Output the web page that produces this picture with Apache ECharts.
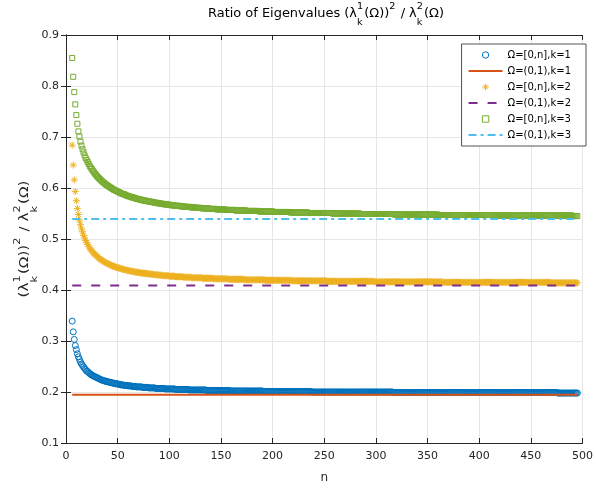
<!DOCTYPE html>
<html>
<head>
<meta charset="utf-8">
<script src="https://cdn.jsdelivr.net/npm/echarts@6/dist/echarts.min.js"></script>
<style>html,body{margin:0;padding:0;background:#fff}#chart{width:596px;height:489px}</style>
</head>
<body>
<div id="chart"></div>
<script>
// n values (x)
const xs = [
  6,7,8,9,10,11,12,13,14,15, 16,17,18,19,20,21,22,23,24,25,
  26,27,28,29,30,31,32,33,34,35, 36,37,38,39,40,41,42,43,44,45,
  46,47,48,49,50,51,52,53,54,55, 56,57,58,59,60,61,62,63,64,65,
  66,67,68,69,70,71,72,73,74,75, 76,77,78,79,80,81,82,83,84,85,
  86,87,88,89,90,91,92,93,94,95, 96,97,98,99,100,101,102,103,104,105,
  106,107,108,109,110,111,112,113,114,115, 116,117,118,119,120,121,122,123,124,125,
  126,127,128,129,130,131,132,133,134,135, 136,137,138,139,140,141,142,143,144,145,
  146,147,148,149,150,151,152,153,154,155, 156,157,158,159,160,161,162,163,164,165,
  166,167,168,169,170,171,172,173,174,175, 176,177,178,179,180,181,182,183,184,185,
  186,187,188,189,190,191,192,193,194,195, 196,197,198,199,200,201,202,203,204,205,
  206,207,208,209,210,211,212,213,214,215, 216,217,218,219,220,221,222,223,224,225,
  226,227,228,229,230,231,232,233,234,235, 236,237,238,239,240,241,242,243,244,245,
  246,247,248,249,250,251,252,253,254,255, 256,257,258,259,260,261,262,263,264,265,
  266,267,268,269,270,271,272,273,274,275, 276,277,278,279,280,281,282,283,284,285,
  286,287,288,289,290,291,292,293,294,295, 296,297,298,299,300,301,302,303,304,305,
  306,307,308,309,310,311,312,313,314,315, 316,317,318,319,320,321,322,323,324,325,
  326,327,328,329,330,331,332,333,334,335, 336,337,338,339,340,341,342,343,344,345,
  346,347,348,349,350,351,352,353,354,355, 356,357,358,359,360,361,362,363,364,365,
  366,367,368,369,370,371,372,373,374,375, 376,377,378,379,380,381,382,383,384,385,
  386,387,388,389,390,391,392,393,394,395, 396,397,398,399,400,401,402,403,404,405,
  406,407,408,409,410,411,412,413,414,415, 416,417,418,419,420,421,422,423,424,425,
  426,427,428,429,430,431,432,433,434,435, 436,437,438,439,440,441,442,443,444,445,
  446,447,448,449,450,451,452,453,454,455, 456,457,458,459,460,461,462,463,464,465,
  466,467,468,469,470,471,472,473,474,475, 476,477,478,479,480,481,482,483,484,485,
  486,487,488,489,490,491,492,493,494,495
];
// Ω=[0,n], k=1   (one row = 10 consecutive n)
const ratioK1 = [
  .339,.318,.303,.291,.283,.275,.269,.264,.259,.255,
  .252,.249,.246,.244,.241,.240,.238,.236,.235,.233,
  .232,.231,.230,.229,.228,.227,.226,.225,.224,.223,
  .223,.222,.221,.221,.220,.220,.219,.219,.218,.218,
  .217,.217,.216,.216,.216,.215,.215,.214,.214,.214,
  .213,.213,.213,.213,.212,.212,.212,.212,.211,.211,
  .211,.211,.210,.210,.210,.210,.210,.210,.209,.209,
  .209,.209,.209,.209,.208,.208,.208,.208,.208,.208,
  .208,.207,.207,.207,.207,.207,.207,.207,.207,.207,
  .206,.206,.206,.206,.206,.206,.206,.206,.206,.206,
  .205,.205,.205,.205,.205,.205,.205,.205,.205,.205,
  .205,.205,.205,.204,.204,.204,.204,.204,.204,.204,
  .204,.204,.204,.204,.204,.204,.204,.204,.204,.204,
  .203,.203,.203,.203,.203,.203,.203,.203,.203,.203,
  .203,.203,.203,.203,.203,.203,.203,.203,.203,.203,
  .203,.203,.203,.202,.202,.202,.202,.202,.202,.202,
  .202,.202,.202,.202,.202,.202,.202,.202,.202,.202,
  .202,.202,.202,.202,.202,.202,.202,.202,.202,.202,
  .202,.202,.202,.202,.202,.201,.201,.201,.201,.201,
  .201,.201,.201,.201,.201,.201,.201,.201,.201,.201,
  .201,.201,.201,.201,.201,.201,.201,.201,.201,.201,
  .201,.201,.201,.201,.201,.201,.201,.201,.201,.201,
  .201,.201,.201,.201,.201,.201,.201,.201,.201,.201,
  .201,.201,.200,.200,.200,.200,.200,.200,.200,.200,
  .200,.200,.200,.200,.200,.200,.200,.200,.200,.200,
  .200,.200,.200,.200,.200,.200,.200,.200,.200,.200,
  .200,.200,.200,.200,.200,.200,.200,.200,.200,.200,
  .200,.200,.200,.200,.200,.200,.200,.200,.200,.200,
  .200,.200,.200,.200,.200,.200,.200,.200,.200,.200,
  .200,.200,.200,.200,.200,.200,.200,.200,.200,.200,
  .200,.200,.200,.200,.200,.200,.200,.200,.200,.200,
  .200,.199,.199,.199,.199,.199,.199,.199,.199,.199,
  .199,.199,.199,.199,.199,.199,.199,.199,.199,.199,
  .199,.199,.199,.199,.199,.199,.199,.199,.199,.199,
  .199,.199,.199,.199,.199,.199,.199,.199,.199,.199,
  .199,.199,.199,.199,.199,.199,.199,.199,.199,.199,
  .199,.199,.199,.199,.199,.199,.199,.199,.199,.199,
  .199,.199,.199,.199,.199,.199,.199,.199,.199,.199,
  .199,.199,.199,.199,.199,.199,.199,.199,.199,.199,
  .199,.199,.199,.199,.199,.199,.199,.199,.199,.199,
  .199,.199,.199,.199,.199,.199,.199,.199,.199,.199,
  .199,.199,.199,.199,.199,.199,.199,.199,.199,.199,
  .199,.199,.199,.199,.199,.199,.199,.199,.199,.199,
  .199,.199,.199,.199,.199,.199,.199,.199,.199,.199,
  .199,.199,.199,.199,.199,.199,.199,.199,.199,.199,
  .199,.199,.199,.199,.199,.199,.199,.199,.199,.199,
  .199,.199,.199,.199,.199,.199,.199,.199,.199,.199,
  .198,.198,.198,.198,.198,.198,.198,.198,.198,.198,
  .198,.198,.198,.198,.198,.198,.198,.198,.198,.198
];
// Ω=[0,n], k=2
const ratioK2 = [
  .684,.645,.616,.593,.575,.560,.548,.537,.528,.520,
  .514,.507,.502,.497,.493,.489,.486,.482,.479,.477,
  .474,.472,.470,.468,.466,.464,.462,.461,.459,.458,
  .457,.455,.454,.453,.452,.451,.450,.449,.448,.447,
  .447,.446,.445,.444,.444,.443,.443,.442,.441,.441,
  .440,.440,.439,.439,.438,.438,.437,.437,.437,.436,
  .436,.435,.435,.435,.434,.434,.434,.433,.433,.433,
  .433,.432,.432,.432,.432,.431,.431,.431,.431,.430,
  .430,.430,.430,.429,.429,.429,.429,.429,.428,.428,
  .428,.428,.428,.428,.427,.427,.427,.427,.427,.427,
  .426,.426,.426,.426,.426,.426,.426,.426,.425,.425,
  .425,.425,.425,.425,.425,.425,.424,.424,.424,.424,
  .424,.424,.424,.424,.424,.424,.423,.423,.423,.423,
  .423,.423,.423,.423,.423,.423,.423,.422,.422,.422,
  .422,.422,.422,.422,.422,.422,.422,.422,.422,.422,
  .422,.421,.421,.421,.421,.421,.421,.421,.421,.421,
  .421,.421,.421,.421,.421,.421,.421,.420,.420,.420,
  .420,.420,.420,.420,.420,.420,.420,.420,.420,.420,
  .420,.420,.420,.420,.420,.420,.420,.419,.419,.419,
  .419,.419,.419,.419,.419,.419,.419,.419,.419,.419,
  .419,.419,.419,.419,.419,.419,.419,.419,.419,.419,
  .419,.419,.419,.418,.418,.418,.418,.418,.418,.418,
  .418,.418,.418,.418,.418,.418,.418,.418,.418,.418,
  .418,.418,.418,.418,.418,.418,.418,.418,.418,.418,
  .418,.418,.418,.418,.418,.418,.418,.417,.417,.417,
  .417,.417,.417,.417,.417,.417,.417,.417,.417,.417,
  .417,.417,.417,.417,.417,.417,.417,.417,.417,.417,
  .417,.417,.417,.417,.417,.417,.417,.417,.417,.417,
  .417,.417,.417,.417,.417,.417,.417,.417,.417,.417,
  .417,.417,.417,.416,.416,.416,.416,.416,.416,.416,
  .416,.416,.416,.416,.416,.416,.416,.416,.416,.416,
  .416,.416,.416,.416,.416,.416,.416,.416,.416,.416,
  .416,.416,.416,.416,.416,.416,.416,.416,.416,.416,
  .416,.416,.416,.416,.416,.416,.416,.416,.416,.416,
  .416,.416,.416,.416,.416,.416,.416,.416,.416,.416,
  .416,.416,.416,.416,.416,.416,.416,.416,.416,.415,
  .415,.415,.415,.415,.415,.415,.415,.415,.415,.415,
  .415,.415,.415,.415,.415,.415,.415,.415,.415,.415,
  .415,.415,.415,.415,.415,.415,.415,.415,.415,.415,
  .415,.415,.415,.415,.415,.415,.415,.415,.415,.415,
  .415,.415,.415,.415,.415,.415,.415,.415,.415,.415,
  .415,.415,.415,.415,.415,.415,.415,.415,.415,.415,
  .415,.415,.415,.415,.415,.415,.415,.415,.415,.415,
  .415,.415,.415,.415,.415,.415,.415,.415,.415,.415,
  .415,.415,.415,.415,.415,.415,.415,.415,.415,.415,
  .415,.415,.415,.415,.415,.415,.415,.415,.415,.415,
  .415,.415,.415,.414,.414,.414,.414,.414,.414,.414,
  .414,.414,.414,.414,.414,.414,.414,.414,.414,.414,
  .414,.414,.414,.414,.414,.414,.414,.414,.414,.414
];
// Ω=[0,n], k=3
const ratioK3 = [
  .855,.818,.788,.764,.743,.726,.711,.701,.691,.683,
  .676,.670,.664,.659,.655,.651,.647,.643,.640,.637,
  .634,.631,.628,.626,.623,.621,.619,.617,.615,.613,
  .611,.610,.608,.606,.605,.604,.602,.601,.600,.598,
  .597,.596,.595,.594,.593,.592,.591,.590,.589,.588,
  .588,.587,.586,.585,.584,.584,.583,.582,.582,.581,
  .581,.580,.579,.579,.578,.578,.577,.577,.576,.576,
  .575,.575,.575,.574,.574,.573,.573,.573,.572,.572,
  .571,.571,.571,.570,.570,.570,.569,.569,.569,.568,
  .568,.568,.568,.567,.567,.567,.566,.566,.566,.566,
  .565,.565,.565,.565,.565,.564,.564,.564,.564,.563,
  .563,.563,.563,.563,.563,.562,.562,.562,.562,.562,
  .561,.561,.561,.561,.561,.561,.560,.560,.560,.560,
  .560,.560,.560,.559,.559,.559,.559,.559,.559,.559,
  .558,.558,.558,.558,.558,.558,.558,.558,.558,.557,
  .557,.557,.557,.557,.557,.557,.557,.557,.556,.556,
  .556,.556,.556,.556,.556,.556,.556,.556,.556,.555,
  .555,.555,.555,.555,.555,.555,.555,.555,.555,.555,
  .555,.554,.554,.554,.554,.554,.554,.554,.554,.554,
  .554,.554,.554,.554,.554,.553,.553,.553,.553,.553,
  .553,.553,.553,.553,.553,.553,.553,.553,.553,.553,
  .553,.552,.552,.552,.552,.552,.552,.552,.552,.552,
  .552,.552,.552,.552,.552,.552,.552,.552,.552,.551,
  .551,.551,.551,.551,.551,.551,.551,.551,.551,.551,
  .551,.551,.551,.551,.551,.551,.551,.551,.551,.551,
  .551,.551,.550,.550,.550,.550,.550,.550,.550,.550,
  .550,.550,.550,.550,.550,.550,.550,.550,.550,.550,
  .550,.550,.550,.550,.550,.550,.550,.550,.550,.549,
  .549,.549,.549,.549,.549,.549,.549,.549,.549,.549,
  .549,.549,.549,.549,.549,.549,.549,.549,.549,.549,
  .549,.549,.549,.549,.549,.549,.549,.549,.549,.549,
  .549,.549,.548,.548,.548,.548,.548,.548,.548,.548,
  .548,.548,.548,.548,.548,.548,.548,.548,.548,.548,
  .548,.548,.548,.548,.548,.548,.548,.548,.548,.548,
  .548,.548,.548,.548,.548,.548,.548,.548,.548,.548,
  .548,.548,.548,.548,.548,.547,.547,.547,.547,.547,
  .547,.547,.547,.547,.547,.547,.547,.547,.547,.547,
  .547,.547,.547,.547,.547,.547,.547,.547,.547,.547,
  .547,.547,.547,.547,.547,.547,.547,.547,.547,.547,
  .547,.547,.547,.547,.547,.547,.547,.547,.547,.547,
  .547,.547,.547,.547,.547,.547,.547,.547,.547,.547,
  .546,.546,.546,.546,.546,.546,.546,.546,.546,.546,
  .546,.546,.546,.546,.546,.546,.546,.546,.546,.546,
  .546,.546,.546,.546,.546,.546,.546,.546,.546,.546,
  .546,.546,.546,.546,.546,.546,.546,.546,.546,.546,
  .546,.546,.546,.546,.546,.546,.546,.546,.546,.546,
  .546,.546,.546,.546,.546,.546,.546,.546,.546,.546,
  .546,.546,.546,.546,.546,.546,.546,.546,.546,.546,
  .546,.546,.546,.546,.546,.545,.545,.545,.545,.545
];
// Ω=(0,1) constant ratios
const limitK1 = 0.1946;
const limitK2 = 0.409;
const limitK3 = 0.539;
const seriesNames = ['Ω=[0,n],k=1','Ω=(0,1),k=1','Ω=[0,n],k=2','Ω=(0,1),k=2','Ω=[0,n],k=3','Ω=(0,1),k=3'];
const xTicks = [0,50,100,150,200,250,300,350,400,450,500];
const yTicks = [0.1,0.2,0.3,0.4,0.5,0.6,0.7,0.8,0.9];

const FONT = '"DejaVu Sans", "Liberation Sans", Arial, sans-serif';
const toPts = vals => xs.map((n, i) => [n, vals[i]]);
const flat = v => [[xs[0], v], [xs[xs.length - 1], v]];

function mathText(tokens, size, sub, color) {
  const ctx = document.createElement('canvas').getContext('2d');
  const kids = []; let x = 0;
  const mk = (t, px, py, fs) => ({type: 'text', x: px, y: py, silent: true,
    style: {text: t, fontSize: fs, fontFamily: FONT, fill: color, align: 'left', verticalAlign: 'middle'}});
  for (const tok of tokens) {
    if (typeof tok === 'string') {
      ctx.font = size + 'px ' + FONT;
      kids.push(mk(tok, x, 0, size));
      x += ctx.measureText(tok).width;
    } else {
      ctx.font = sub + 'px ' + FONT;
      let w = 0;
      if (tok.sup) { kids.push(mk(tok.sup, x, -size * 0.62, sub)); w = Math.max(w, ctx.measureText(tok.sup).width); }
      if (tok.sub) { kids.push(mk(tok.sub, x, size * 0.72, sub)); w = Math.max(w, ctx.measureText(tok.sub).width); }
      x += w + 1;
    }
  }
  kids.forEach(k => { k.x -= x / 2; });
  return {kids, width: x};
}
const ratioTokens = ['(λ', {sub: 'k', sup: '1'}, '(Ω))', {sup: '2'}, ' / λ', {sub: 'k', sup: '2'}, '(Ω)'];
const titleTokens = ['Ratio of Eigenvalues ' + ratioTokens[0]].concat(ratioTokens.slice(1));
const titleM = mathText(titleTokens, 12, 9, '#000');
const ylabM = mathText(ratioTokens, 12, 9, '#262626');
const titleStretch = 236 / titleM.width;
const ylabStretch = 117 / ylabM.width;

const axisCommon = {
  axisLine: {show: true, lineStyle: {color: '#262626', width: 1}},
  axisTick: {show: true, inside: true, length: 5, lineStyle: {color: '#262626'}},
};

const chart = echarts.init(document.getElementById('chart'), null, {renderer: 'canvas'});
chart.setOption({
  animation: false,
  backgroundColor: '#fff',
  textStyle: {fontFamily: FONT},
  grid: {left: 66, right: 9, top: 35, bottom: 42, containLabel: false},
  xAxis: [
    Object.assign({type: 'value', min: 0, max: 500, interval: 50, position: 'bottom',
      name: 'n', nameLocation: 'middle', nameGap: 29,
      nameTextStyle: {fontSize: 12, color: '#262626', fontFamily: FONT},
      axisLabel: {fontSize: 11, color: '#262626', margin: 8, fontFamily: FONT,
        formatter: v => xTicks.includes(v) ? String(v) : ''},
      splitLine: {show: true, lineStyle: {color: '#e6e6e6', width: 1}}}, axisCommon),
    Object.assign({type: 'value', min: 0, max: 500, interval: 50, position: 'top',
      axisLabel: {show: false}, splitLine: {show: false}}, axisCommon)
  ],
  yAxis: [
    Object.assign({type: 'value', min: 0.1, max: 0.9, interval: 0.1, position: 'left',
      axisLabel: {fontSize: 11, color: '#262626', margin: 7, fontFamily: FONT,
        formatter: v => { const t = yTicks.find(y => Math.abs(y - v) < 1e-9); return t === undefined ? '' : t.toFixed(1); }},
      splitLine: {show: true, lineStyle: {color: '#e6e6e6', width: 1}}}, axisCommon),
    Object.assign({type: 'value', min: 0.1, max: 0.9, interval: 0.1, position: 'right',
      axisLabel: {show: false}, splitLine: {show: false}}, axisCommon)
  ],
  legend: {
    orient: 'vertical', right: 10, top: 44,
    itemWidth: 34, itemHeight: 8, itemGap: 6,
    padding: [6, 15, 6, 6],
    borderColor: '#262626', borderWidth: 0.8, backgroundColor: '#fff',
    itemStyle: {borderWidth: 1},
    textStyle: {fontSize: 10, color: '#000', fontFamily: FONT},
    data: seriesNames,
    selectedMode: false
  },
  series: [
    {name: seriesNames[0], type: 'line', data: toPts(ratioK1), symbol: 'circle', symbolSize: 6, showSymbol: true,
      lineStyle: {opacity: 0, width: 0}, itemStyle: {color: 'rgba(0,0,0,0)', borderColor: '#0072BD', borderWidth: 1},
      silent: true, z: 2},
    {name: seriesNames[1], type: 'line', data: flat(limitK1), symbol: 'none',
      lineStyle: {color: '#D95319', width: 2, type: 'solid'},
      itemStyle: {color: 'rgba(0,0,0,0)', borderColor: 'rgba(0,0,0,0)'}, silent: true, z: 3},
    {name: seriesNames[2], type: 'line', data: toPts(ratioK2),
      symbol: 'path://M0,-1L0,1M-1,0L1,0M-0.7,-0.7L0.7,0.7M-0.7,0.7L0.7,-0.7', symbolSize: 7, showSymbol: true,
      lineStyle: {opacity: 0, width: 0}, itemStyle: {color: 'rgba(0,0,0,0)', borderColor: '#EDB120', borderWidth: 1},
      silent: true, z: 4},
    {name: seriesNames[3], type: 'line', data: flat(limitK2), symbol: 'none',
      lineStyle: {color: '#7E2F8E', width: 2, type: [9, 10]},
      itemStyle: {color: 'rgba(0,0,0,0)', borderColor: 'rgba(0,0,0,0)'}, silent: true, z: 5},
    {name: seriesNames[4], type: 'line', data: toPts(ratioK3), symbol: 'rect', symbolSize: 5, showSymbol: true,
      lineStyle: {opacity: 0, width: 0}, itemStyle: {color: 'rgba(0,0,0,0)', borderColor: '#77AC30', borderWidth: 1},
      silent: true, z: 6},
    {name: seriesNames[5], type: 'line', data: flat(limitK3), symbol: 'none',
      lineStyle: {color: '#4DBEEE', width: 2, type: [8, 4, 3, 4]},
      itemStyle: {color: 'rgba(0,0,0,0)', borderColor: 'rgba(0,0,0,0)'}, silent: true, z: 7}
  ],
  graphic: [
    {type: 'group', x: 326, y: 14, scaleX: titleStretch, children: titleM.kids},
    {type: 'group', x: 25, y: 239, rotation: Math.PI / 2, scaleX: ylabStretch, scaleY: 1.05, children: ylabM.kids}
  ]
});
</script>
</body>
</html>
